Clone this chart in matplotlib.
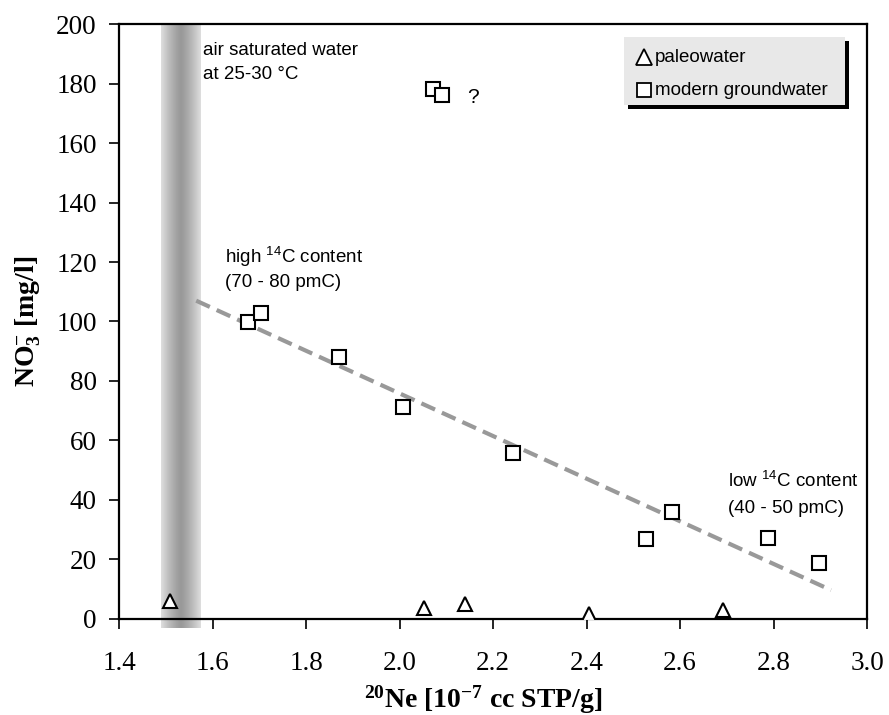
import numpy as np
import matplotlib
matplotlib.use("Agg")
import matplotlib.pyplot as plt
from matplotlib.patches import Rectangle

# Daten
modern_ne = [1.676, 1.704, 1.871, 2.007, 2.243, 2.527, 2.583, 2.788, 2.897, 2.072, 2.091]
modern_no3 = [99.8, 102.9, 88.0, 71.3, 55.8, 26.9, 36.0, 27.2, 18.8, 178.0, 176.0]
paleo_ne = [1.509, 2.053, 2.140, 2.405, 2.692]
paleo_no3 = [5.9, 3.7, 5.0, 1.7, 3.0]
trend_ne = [1.565, 2.923]
trend_no3 = [107.0, 9.7]
band_ne = [1.49, 1.575]
xticks = [1.4, 1.6, 1.8, 2.0, 2.2, 2.4, 2.6, 2.8, 3.0]
yticks = [0, 20, 40, 60, 80, 100, 120, 140, 160, 180, 200]
legend_labels = ['paleowater', 'modern groundwater']

plt.rcParams['font.family'] = ['Liberation Sans', 'DejaVu Sans']
plt.rcParams['mathtext.fontset'] = 'custom'
plt.rcParams['mathtext.rm'] = 'Liberation Sans'
plt.rcParams['mathtext.bf'] = 'Liberation Serif:bold'

fig = plt.figure(figsize=(8.89, 7.15), dpi=100)
ax = fig.add_axes([0.1339, 0.1343, 0.8414, 0.8321])

# grauer Streifen (luftgesaettigtes Wasser), Mitte dunkler
prof = 1 - np.abs(np.linspace(-1, 1, 80)) ** 1.3
ax.imshow(prof[None, :], cmap='gray_r', vmin=-0.48, vmax=3.22, aspect='auto',
          extent=[band_ne[0], band_ne[1], -3, 200], clip_on=False, zorder=1,
          interpolation='bilinear')

ax.plot(trend_ne, trend_no3, ls=(0, (3.6, 1.8)), color='#999999', lw=3, zorder=2)
ax.plot(modern_ne, modern_no3, 's', ms=9.4, mfc='white', mec='black', mew=1.5, zorder=3)
ax.plot(paleo_ne, paleo_no3, '^', ms=9.5, mfc='white', mec='black', mew=1.5, zorder=3)

ax.set_xlim(1.4, 3.0)
ax.set_ylim(0, 200)
ax.set_xticks(xticks)
ax.set_yticks(yticks)
ax.set_xticklabels(['%.1f' % v for v in xticks])
for lab in ax.get_xticklabels() + ax.get_yticklabels():
    lab.set_family('Liberation Serif')
    lab.set_fontsize(19.5)
ax.tick_params(direction='out', length=7, width=1.2)
ax.tick_params(axis='x', pad=16)
ax.tick_params(axis='y', pad=9)
for s in ax.spines.values():
    s.set_linewidth(1.6)

ax.set_xlabel(r'$\mathbf{^{20}}$Ne [10$\mathbf{^{-7}}$ cc STP/g]', family='Liberation Serif',
              fontweight='bold', fontsize=20)
ax.set_ylabel(r'NO$\mathbf{_3^{-}}$ [mg/l]', family='Liberation Serif',
              fontweight='bold', fontsize=20)
ax.xaxis.set_label_coords(0.487, -0.108)
ax.yaxis.set_label_coords(-0.101, 0.5)

# Beschriftungen
fs = 13.5
ax.text(1.58, 189.6, 'air saturated water', fontsize=fs, va='baseline')
ax.text(1.58, 181.5, 'at 25-30 °C', fontsize=fs, va='baseline')
ax.text(1.627, 119.7, r'high $^{14}$C content', fontsize=fs, va='baseline')
ax.text(1.627, 111.6, '(70 - 80 pmC)', fontsize=fs, va='baseline')
ax.text(2.703, 44.4, r'low $^{14}$C content', fontsize=fs, va='baseline')
ax.text(2.703, 35.6, '(40 - 50 pmC)', fontsize=fs, va='baseline')
ax.text(2.157, 173.4, '?', fontsize=15, va='baseline', ha='center')

# Legende mit Schatten
ax.add_patch(Rectangle((0.680, 0.857), 0.2956, 0.114, transform=ax.transAxes,
                       facecolor='black', edgecolor='none', zorder=4))
ax.add_patch(Rectangle((0.675, 0.864), 0.2956, 0.114, transform=ax.transAxes,
                       facecolor='#e8e8e8', edgecolor='none', zorder=5))
for mk, ms, yy, lab in zip(['^', 's'], [11, 9.5], [0.9445, 0.889], legend_labels):
    ax.plot([0.7012], [yy], mk, ms=ms, mfc='white', mec='black', mew=1.3,
            transform=ax.transAxes, clip_on=False, zorder=6)
    ax.text(0.7166, yy, lab, fontsize=fs, va='center', transform=ax.transAxes, zorder=6)

fig.savefig('out.png', dpi=100)
